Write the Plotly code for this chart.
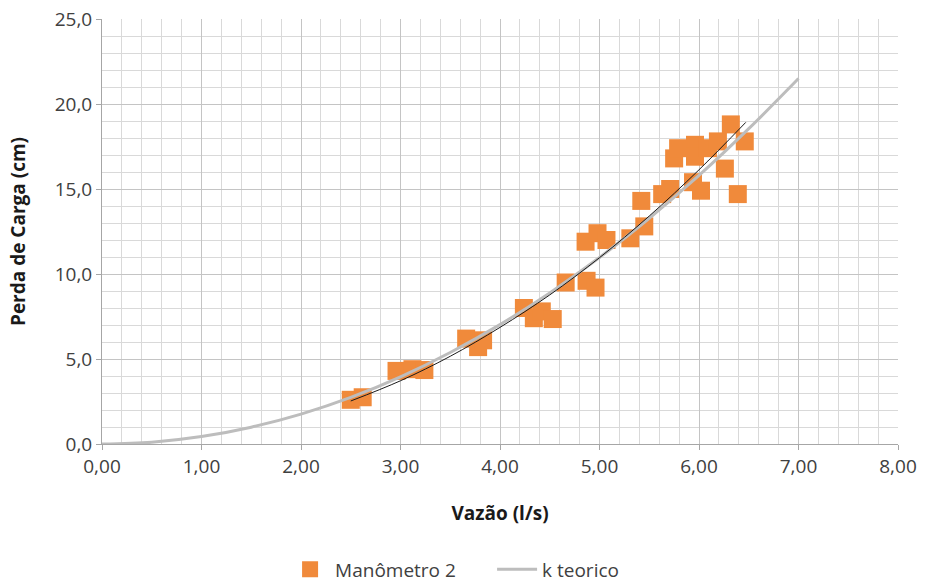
import plotly.graph_objects as go

# Measured head loss (Manômetro 2) against flow rate
vazao = [2.50, 2.62, 2.96, 3.12, 3.24, 3.66, 3.78, 3.83,
         4.24, 4.34, 4.42, 4.53, 4.66, 4.86, 4.87, 4.96, 4.98, 5.07,
         5.31, 5.42, 5.45, 5.63, 5.71, 5.75, 5.79, 5.94, 5.96, 5.96,
         6.02, 6.09, 6.19, 6.26, 6.32, 6.39, 6.46]
perda = [2.6, 2.75, 4.3, 4.4, 4.35, 6.2, 5.7, 6.1,
         8.0, 7.4, 7.8, 7.35, 9.5, 11.9, 9.6, 9.2, 12.4, 12.0,
         12.1, 14.3, 12.8, 14.7, 15.0, 16.8, 17.4, 15.4, 17.6, 16.9,
         14.9, 17.4, 17.8, 16.2, 18.8, 14.7, 17.8]

# Theoretical curve (k teorico)
x_teo = [0.0, 0.5, 1.0, 1.5, 2.0, 2.5, 3.0, 3.5, 4.0, 4.5, 5.0, 5.5, 6.0, 6.5, 7.0]
y_teo = [0.0, 0.11, 0.44, 0.99, 1.76, 2.74, 3.95, 5.38, 7.02, 8.89, 10.97,
         13.28, 15.80, 18.55, 21.50]

# Power trendline over the measured points
x_tend = [2.50, 3.00, 3.50, 4.00, 4.50, 5.00, 5.50, 6.00, 6.47]
y_tend = [2.53, 3.72, 5.16, 6.86, 8.77, 10.96, 13.41, 16.13, 18.92]

x_ticks = [0, 1, 2, 3, 4, 5, 6, 7, 8]
y_ticks = [0, 5, 10, 15, 20, 25]

FONT = "Open Sans, Liberation Sans, sans-serif"
TXT = "#404040"

fig = go.Figure()
fig.add_trace(go.Scatter(
    x=vazao, y=perda, mode="markers", name="Manômetro 2",
    marker=dict(symbol="square", size=18, color="#F08A3B", line=dict(width=0)),
))
fig.add_trace(go.Scatter(
    x=x_teo, y=y_teo, mode="lines", name="k teorico", line_shape="spline",
    line=dict(color="#BDBDBD", width=3),
))
fig.add_trace(go.Scatter(
    x=x_tend, y=y_tend, mode="lines", showlegend=False, line_shape="spline",
    line=dict(color="#1A1A1A", width=1),
))

fig.update_layout(
    width=925, height=587,
    margin=dict(l=102, r=27, t=19, b=143, autoexpand=False),
    paper_bgcolor="white", plot_bgcolor="white",
    separators=",.",
    font=dict(family=FONT, size=19, color=TXT),
    legend=dict(orientation="h", x=0.23, xanchor="left",
                yref="container", y=0.03, yanchor="middle",
                entrywidth=152, entrywidthmode="pixels",
                font=dict(size=19, color=TXT), itemwidth=40),
)
fig.update_xaxes(
    range=[0, 8], tickvals=x_ticks, tickformat=".2f",
    tickfont=dict(size=19, color=TXT),
    showgrid=True, gridcolor="#C4C4C4", gridwidth=1,
    minor=dict(dtick=0.2, showgrid=True, gridcolor="#D9D9D9", gridwidth=1),
    showline=True, linecolor="#A6A6A6", linewidth=1,
    ticks="outside", ticklen=5, tickcolor="#A6A6A6",
    zeroline=False,
    title=dict(text="<b>Vazão (l/s)</b>", font=dict(size=19, color="#1a1a1a"), standoff=28),
)
fig.update_yaxes(
    range=[0, 25], tickvals=y_ticks, tickformat=".1f",
    tickfont=dict(size=19, color=TXT),
    showgrid=True, gridcolor="#C4C4C4", gridwidth=1,
    minor=dict(dtick=1, showgrid=True, gridcolor="#D9D9D9", gridwidth=1),
    showline=True, linecolor="#A6A6A6", linewidth=1,
    ticks="outside", ticklen=5, tickcolor="#A6A6A6",
    zeroline=False,
    title=dict(text="<b>Perda de Carga (cm)</b>", font=dict(size=19, color="#1a1a1a"), standoff=24),
)

fig.write_html("out.html")
